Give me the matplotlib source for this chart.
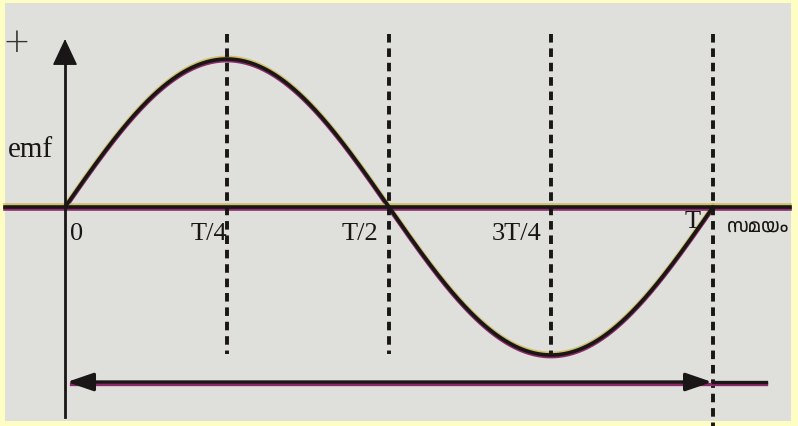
import numpy as np
import matplotlib
matplotlib.use("Agg")
import matplotlib.pyplot as plt
from matplotlib.patches import Rectangle
from matplotlib import font_manager

# ---- data ----
period = 1.0
amplitude = 1.0
tick_positions = [0.0, 0.25, 0.5, 0.75, 1.0]
tick_labels = ["0", "T/4", "T/2", "3T/4", "T"]
dashed_positions = [0.25, 0.5, 0.75, 1.0]
y_label = "emf"
x_label = "സമയം"
plus_label = "+"

W, H = 798, 427
fig = plt.figure(figsize=(W / 100, H / 100), dpi=100)
fig.patch.set_facecolor("#fdfdc4")
ax = fig.add_axes([0, 0, 1, 1])
ox, px_per_T = 65, 648
oy, px_per_A = 208, 148
ax.set_xlim(-ox / px_per_T, (W - ox) / px_per_T)
ax.set_ylim(-(H - oy) / px_per_A, oy / px_per_A)
ax.axis("off")

def X(px):
    return (px - ox) / px_per_T

def Y(py):
    return (oy - py) / px_per_A

# photo background
ax.add_patch(Rectangle((X(5), Y(422)), X(791) - X(5), Y(4) - Y(422),
                       facecolor="#dfdfdb", edgecolor="none", zorder=0))

ink = "#1a1616"
fringe = "#8a2a6a"
yel = "#c9b23a"
off = 1.6 / px_per_A

# sine curve
t = np.linspace(0, period, 400)
e = amplitude * np.sin(2 * np.pi * t / period)
ax.plot(t, e + off, color=yel, lw=2.6, zorder=2, alpha=0.7)
ax.plot(t, e - off, color=fringe, lw=2.6, zorder=2)
ax.plot(t, e, color=ink, lw=2.6, zorder=3, solid_capstyle="round")

# horizontal axis
ax.plot([X(5), X(790)], [off, off], color=yel, lw=2.6, zorder=2, alpha=0.7)
ax.plot([X(5), X(790)], [-off, -off], color=fringe, lw=2.6, zorder=2)
ax.plot([X(5), X(790)], [0, 0], color=ink, lw=2.6, zorder=3)

# vertical axis with arrow
ax.plot([0, 0], [Y(418), Y(60)], color=ink, lw=2.0, zorder=3)
ax.annotate("", xy=(0, Y(40)), xytext=(0, Y(64)),
            arrowprops=dict(arrowstyle="-|>,head_width=0.8,head_length=1.7",
                            color=ink, lw=1.0, shrinkA=0, shrinkB=0), zorder=4)

# dashed verticals
for xp in dashed_positions:
    bottom = Y(427) if xp == period else Y(355)
    ax.plot([xp, xp], [Y(35), bottom], color=ink, lw=2.8,
            linestyle=(0, (2.2, 1.5)), zorder=2)

# bottom double arrow
yb = Y(383)
ax.plot([0.01, X(766)], [yb - off, yb - off], color=fringe, lw=2.4, zorder=2)
ax.annotate("", xy=(X(67), yb), xytext=(X(712), yb),
            arrowprops=dict(arrowstyle="<|-|>,head_width=0.55,head_length=1.6",
                            color=ink, lw=2.4, shrinkA=0, shrinkB=0), zorder=4)
ax.plot([period, X(766)], [yb, yb], color=ink, lw=2.4, zorder=3)

serif = ["Liberation Serif", "DejaVu Serif"]
mal_fonts = [f.name for f in font_manager.fontManager.ttflist if "Malayalam" in f.name]
mal_family = mal_fonts[:1] + ["Noto Sans", "DejaVu Sans"]

ax.text(X(16), Y(42), plus_label, fontsize=24, family=["DejaVu Sans"],
        color="#333", va="center", ha="center", fontweight="light")
ax.text(X(8), Y(157), y_label, fontsize=21, family=serif, color=ink,
        va="baseline", ha="left")
label_left = {"0": 70, "T/4": 191, "T/2": 342, "3T/4": 492, "T": 685}
label_base = {"0": 240, "T/4": 240, "T/2": 240, "3T/4": 240, "T": 228}
for xp, lab in zip(tick_positions, tick_labels):
    ax.text(X(label_left[lab]), Y(label_base[lab]), lab, fontsize=19,
            family=serif, color=ink, va="baseline", ha="left")
ax.text(X(727), Y(232), x_label, fontsize=13.5, family=mal_family, color=ink,
        va="baseline", ha="left")

fig.savefig("out.png", dpi=100, facecolor=fig.get_facecolor())
